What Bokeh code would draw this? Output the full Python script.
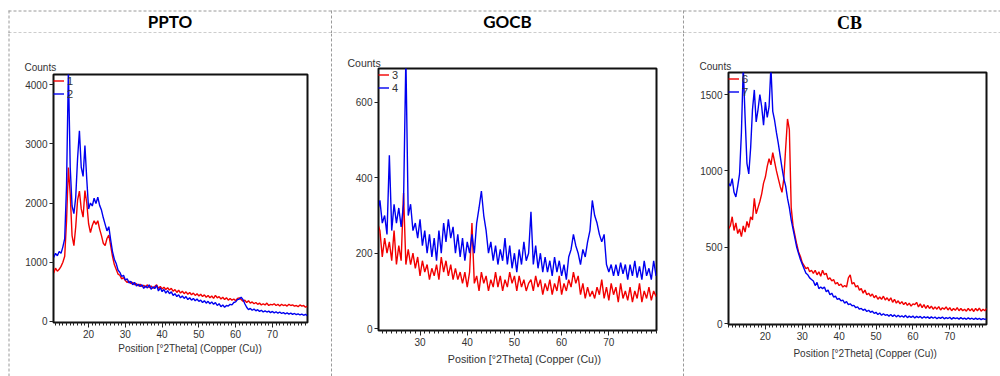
from bokeh.plotting import figure
from bokeh.layouts import row, column
from bokeh.models import Range1d, Label, Legend, LegendItem, FixedTicker
from bokeh.core.properties import value
from bokeh.embed import file_html
from bokeh.resources import INLINE

# ---------------- data ----------------
PPTO_2THETA = [10.5, 11.0, 11.5, 12.0, 12.5, 13.0, 13.5, 14.0, 14.5, 15.0,
               15.5, 16.0, 16.5, 17.0, 17.5, 18.0, 18.5, 19.0, 19.5, 20.0,
               20.5, 21.0, 21.5, 22.0, 22.5, 23.0, 23.5, 24.0, 24.5, 25.0,
               25.5, 26.0, 26.5, 27.0, 27.5, 28.0, 28.5, 29.0, 29.5, 30.0,
               30.5, 31.0, 31.5, 32.0, 32.5, 33.0, 33.5, 34.0, 34.5, 35.0,
               35.5, 36.0, 36.5, 37.0, 37.5, 38.0, 38.5, 39.0, 39.5, 40.0,
               40.5, 41.0, 41.5, 42.0, 42.5, 43.0, 43.5, 44.0, 44.5, 45.0,
               45.5, 46.0, 46.5, 47.0, 47.5, 48.0, 48.5, 49.0, 49.5, 50.0,
               50.5, 51.0, 51.5, 52.0, 52.5, 53.0, 53.5, 54.0, 54.5, 55.0,
               55.5, 56.0, 56.5, 57.0, 57.5, 58.0, 58.5, 59.0, 59.5, 60.0,
               60.5, 61.0, 61.5, 62.0, 62.5, 63.0, 63.5, 64.0, 64.5, 65.0,
               65.5, 66.0, 66.5, 67.0, 67.5, 68.0, 68.5, 69.0, 69.5, 70.0,
               70.5, 71.0, 71.5, 72.0, 72.5, 73.0, 73.5, 74.0, 74.5, 75.0,
               75.5, 76.0, 76.5, 77.0, 77.5, 78.0, 78.5, 79.0, 79.5]
PPTO_SCAN1 = [820, 900, 850, 880, 930, 1000, 1100, 1700, 2600, 2150,
              1450, 1280, 1600, 2050, 2200, 1900, 1760, 2210, 2000, 1650,
              1500, 1620, 1700, 1640, 1700, 1560, 1450, 1320, 1280, 1400,
              1460, 1280, 1100, 960, 880, 800, 780, 720, 740, 690,
              660, 680, 640, 660, 620, 640, 600, 630, 590, 610,
              580, 620, 570, 600, 560, 590, 620, 560, 590, 550,
              580, 540, 570, 530, 560, 510, 540, 490, 530, 480,
              510, 470, 500, 460, 490, 450, 480, 440, 470, 430,
              460, 420, 450, 410, 440, 400, 430, 390, 440, 400,
              420, 380, 410, 370, 400, 360, 390, 360, 380, 350,
              390, 400, 370, 340, 360, 320, 350, 310, 330, 300,
              320, 290, 310, 280, 300, 280, 310, 270, 290, 280,
              300, 270, 290, 260, 290, 270, 280, 260, 290, 270,
              280, 260, 270, 250, 280, 260, 270, 240, 260]
PPTO_SCAN2 = [1080, 1150, 1110, 1180, 1150, 1260, 1400, 2300, 4250, 2600,
              1950, 1820, 2100, 2750, 3220, 2600, 2450, 2970, 2400, 1900,
              2000, 1950, 2080, 1990, 2100, 1960, 1880, 1750, 1640, 1530,
              1600, 1380, 1180, 1050, 980, 870, 830, 760, 780, 700,
              720, 650, 680, 620, 660, 600, 630, 590, 620, 560,
              600, 565, 620, 545, 585, 555, 610, 515, 570, 505,
              540, 480, 520, 470, 500, 440, 470, 420, 450, 400,
              430, 390, 420, 370, 400, 360, 390, 350, 380, 340,
              360, 320, 350, 310, 340, 300, 330, 290, 320, 270,
              300, 250, 280, 240, 270, 260, 290, 280, 320, 330,
              370, 380, 410, 370, 300, 240, 200, 220, 190, 210,
              180, 200, 170, 190, 160, 180, 160, 175, 150, 170,
              145, 165, 140, 160, 135, 150, 130, 145, 125, 140,
              120, 135, 115, 130, 110, 125, 105, 120, 100]

GOCB_2THETA = [21.0,
               21.5, 22.0, 22.5, 23.0, 23.5, 24.0, 24.5, 25.0, 25.5, 26.0,
               26.5, 27.0, 27.5, 28.0, 28.5, 29.0, 29.5, 30.0, 30.5, 31.0,
               31.5, 32.0, 32.5, 33.0, 33.5, 34.0, 34.5, 35.0, 35.5, 36.0,
               36.5, 37.0, 37.5, 38.0, 38.5, 39.0, 39.5, 40.0, 40.5, 41.0,
               41.5, 42.0, 42.5, 43.0, 43.5, 44.0, 44.5, 45.0, 45.5, 46.0,
               46.5, 47.0, 47.5, 48.0, 48.5, 49.0, 49.5, 50.0, 50.5, 51.0,
               51.5, 52.0, 52.5, 53.0, 53.5, 54.0, 54.5, 55.0, 55.5, 56.0,
               56.5, 57.0, 57.5, 58.0, 58.5, 59.0, 59.5, 60.0, 60.5, 61.0,
               61.5, 62.0, 62.5, 63.0, 63.5, 64.0, 64.5, 65.0, 65.5, 66.0,
               66.5, 67.0, 67.5, 68.0, 68.5, 69.0, 69.5, 70.0, 70.5, 71.0,
               71.5, 72.0, 72.5, 73.0, 73.5, 74.0, 74.5, 75.0, 75.5, 76.0,
               76.5, 77.0, 77.5, 78.0, 78.5, 79.0, 79.5, 80.0]
GOCB_SCAN3 = [280,
              260, 190, 240, 200, 230, 180, 260, 170, 220, 180,
              360, 170, 210, 170, 200, 160, 190, 140, 180, 150,
              170, 130, 160, 140, 170, 130, 190, 150, 180, 140,
              170, 130, 160, 130, 150, 120, 150, 110, 150, 280,
              120, 140, 100, 150, 120, 140, 100, 130, 110, 150,
              110, 140, 100, 130, 110, 150, 120, 140, 100, 140,
              110, 130, 100, 120, 130, 100, 140, 110, 130, 90,
              120, 100, 130, 90, 120, 100, 140, 90, 120, 100,
              130, 110, 150, 120, 140, 90, 120, 80, 110, 85,
              100, 80, 110, 90, 130, 80, 110, 75, 120, 90,
              110, 70, 120, 80, 100, 75, 110, 70, 100, 80,
              120, 70, 100, 80, 110, 75, 100, 85]
GOCB_SCAN4 = [310,
              340, 280, 300, 250, 460, 260, 330, 280, 320, 270,
              330, 720, 300, 330, 260, 280, 240, 290, 220, 260,
              200, 250, 190, 240, 180, 260, 200, 280, 230, 290,
              240, 270, 200, 250, 190, 240, 180, 230, 200, 250,
              200, 280, 320, 365, 300, 260, 200, 230, 180, 220,
              170, 210, 180, 240, 170, 220, 160, 200, 150, 210,
              170, 230, 180, 200, 310, 170, 220, 160, 200, 150,
              190, 150, 180, 140, 190, 150, 180, 140, 170, 130,
              190, 210, 250, 220, 200, 170, 210, 190, 230, 260,
              340, 300, 280, 250, 230, 250, 170, 150, 170, 140,
              170, 140, 175, 145, 170, 130, 170, 140, 180, 135,
              165, 130, 180, 140, 160, 130, 180, 140]

CB_2THETA = [10.0,
             10.5, 11.0, 11.5, 12.0, 12.5, 13.0, 13.5, 14.0, 14.5, 15.0,
             15.5, 16.0, 16.5, 17.0, 17.5, 18.0, 18.5, 19.0, 19.5, 20.0,
             20.5, 21.0, 21.5, 22.0, 22.5, 23.0, 23.5, 24.0, 24.5, 25.0,
             25.5, 26.0, 26.5, 27.0, 27.5, 28.0, 28.5, 29.0, 29.5, 30.0,
             30.5, 31.0, 31.5, 32.0, 32.5, 33.0, 33.5, 34.0, 34.5, 35.0,
             35.5, 36.0, 36.5, 37.0, 37.5, 38.0, 38.5, 39.0, 39.5, 40.0,
             40.5, 41.0, 41.5, 42.0, 42.5, 43.0, 43.5, 44.0, 44.5, 45.0,
             45.5, 46.0, 46.5, 47.0, 47.5, 48.0, 48.5, 49.0, 49.5, 50.0,
             50.5, 51.0, 51.5, 52.0, 52.5, 53.0, 53.5, 54.0, 54.5, 55.0,
             55.5, 56.0, 56.5, 57.0, 57.5, 58.0, 58.5, 59.0, 59.5, 60.0,
             60.5, 61.0, 61.5, 62.0, 62.5, 63.0, 63.5, 64.0, 64.5, 65.0,
             65.5, 66.0, 66.5, 67.0, 67.5, 68.0, 68.5, 69.0, 69.5, 70.0,
             70.5, 71.0, 71.5, 72.0, 72.5, 73.0, 73.5, 74.0, 74.5, 75.0,
             75.5, 76.0, 76.5, 77.0, 77.5, 78.0, 78.5, 79.0, 79.5, 80.0]
CB_SCAN6 = [620,
            640, 700, 610, 660, 590, 620, 570, 640, 600, 670,
            630, 700, 680, 820, 720, 760, 800, 850, 920, 960,
            1030, 1080, 1040, 1120, 1060, 1000, 950, 900, 860, 950,
            1150, 1340, 1270, 760, 640, 580, 520, 470, 440, 400,
            380, 360, 370, 340, 350, 330, 350, 320, 340, 310,
            350, 320, 330, 290, 300, 280, 290, 260, 270, 250,
            260, 240, 250, 240, 300, 320, 260, 270, 240, 250,
            220, 230, 200, 220, 190, 200, 180, 195, 170, 185,
            160, 175, 160, 180, 155, 170, 150, 170, 140, 160,
            135, 150, 130, 145, 125, 140, 120, 135, 115, 130,
            125, 140, 110, 130, 105, 125, 100, 120, 100, 115,
            95, 110, 95, 112, 90, 105, 95, 110, 90, 105,
            85, 100, 88, 105, 85, 100, 85, 95, 82, 100,
            84, 98, 80, 100, 85, 102, 82, 95, 85, 100]
CB_SCAN7 = [920,
            900, 950, 860, 830, 900, 980, 1250, 1680, 1350, 1050,
            980, 1150, 1400, 1530, 1320, 1400, 1500, 1420, 1300, 1450,
            1350, 1420, 1680, 1390, 1330, 1250, 1180, 1100, 1020, 950,
            900, 820, 760, 680, 620, 560, 500, 460, 420, 390,
            360, 330, 320, 300, 290, 280, 250, 270, 230, 240,
            230, 240, 210, 220, 190, 200, 175, 180, 160, 165,
            150, 155, 135, 145, 125, 130, 118, 120, 105, 110,
            95, 100, 88, 95, 80, 88, 75, 82, 68, 75,
            60, 70, 55, 65, 55, 60, 50, 60, 48, 58,
            45, 55, 45, 52, 42, 55, 40, 50, 42, 50,
            38, 48, 40, 48, 36, 46, 38, 45, 35, 45,
            36, 44, 33, 42, 35, 44, 32, 40, 34, 42,
            30, 40, 33, 38, 30, 40, 31, 37, 29, 38,
            30, 36, 28, 37, 29, 35, 27, 34, 28, 32]

PANEL_TITLES = ["PPTO", "GOCB", "CB"]
LEGEND_NAMES = [["1", "2"], ["3", "4"], ["6", "7"]]
X_TICKS = [[20, 30, 40, 50, 60, 70], [30, 40, 50, 60, 70], [20, 30, 40, 50, 60, 70]]
Y_TICKS = [[0, 1000, 2000, 3000, 4000], [0, 200, 400, 600], [0, 500, 1000, 1500]]
Y_LABEL = "Counts"
X_LABEL = "Position [\u00b02Theta] (Copper (Cu))"

for a, b in [(PPTO_2THETA, PPTO_SCAN1), (PPTO_2THETA, PPTO_SCAN2), (GOCB_2THETA, GOCB_SCAN3),
             (GOCB_2THETA, GOCB_SCAN4), (CB_2THETA, CB_SCAN6), (CB_2THETA, CB_SCAN7)]:
    assert len(a) == len(b), (len(a), len(b))

RED = "#f20000"
BLUE = "#0000f0"
GRID_DASH = "#9a9a9a"
DASH = "3 2"
TEXT = "#333333"
SANS = "Liberation Sans"

HEADER_H = 33
BODY_H = 376 - HEADER_H


def bare(width, height):
    p = figure(width=width, height=height, output_backend="svg", toolbar_location=None,
               title=None, x_axis_location=None, y_axis_location=None,
               x_range=Range1d(0, width), y_range=Range1d(height, 0), min_border=0)
    p.grid.visible = False
    p.outline_line_color = None
    p.background_fill_color = "white"
    p.border_fill_color = "white"
    return p


# ---- header row of the table (dashed cell borders + column titles) ----
hdr = bare(1000, HEADER_H)
hdr.segment(x0=[8, 8], y0=[10.5, 32.5], x1=[1000, 1000], y1=[10.5, 32.5],
            line_color=GRID_DASH, line_width=1, line_dash=DASH)
hdr.segment(x0=[8.5, 331, 683], y0=[10, 10, 10], x1=[8.5, 331, 683], y1=[33, 33, 33],
            line_color=GRID_DASH, line_width=1, line_dash=DASH)
hdr.text(x=[169.5, 507], y=[21, 21], text=PANEL_TITLES[:2], text_align="center",
         text_baseline="middle", text_font=value("Lato"), text_font_size="17px",
         text_font_style="bold", text_color="black")
hdr.text(x=[849], y=[22], text=PANEL_TITLES[2:], text_align="center",
         text_baseline="middle", text_font=value("Liberation Serif"), text_font_size="18px",
         text_font_style="bold", text_color="black")


def vline(width, xpos):
    p = bare(width, BODY_H)
    p.segment(x0=[xpos], y0=[-60], x1=[xpos], y1=[BODY_H + 60],
              line_color=GRID_DASH, line_width=1, line_dash=DASH)
    return p


def panel(width, borders, xr, yr, xticks, yticks, x, y_red, y_blue, names,
          counts_xy, counts_size, xlabel_xy, xlabel_size):
    lb, rb, tb, bb = borders
    p = figure(width=width, height=BODY_H, output_backend="svg", toolbar_location=None,
               title=None, x_range=Range1d(*xr), y_range=Range1d(*yr),
               min_border_left=lb, min_border_right=rb, min_border_top=tb, min_border_bottom=bb)
    p.background_fill_color = "white"
    p.border_fill_color = "white"
    p.outline_line_color = "#111111"
    p.outline_line_width = 2
    p.grid.visible = False

    xa = p.xaxis[0]
    ya = p.yaxis[0]
    xa.ticker = FixedTicker(ticks=xticks, minor_ticks=list(range(10, 81)))
    ya.ticker = FixedTicker(ticks=yticks, minor_ticks=[])
    for ax in (xa, ya):
        ax.axis_line_color = "#111111"
        ax.major_tick_line_color = "#222222"
        ax.minor_tick_line_color = "#222222"
        ax.major_tick_in = 0
        ax.minor_tick_in = 0
        ax.major_label_text_font = SANS
        ax.major_label_text_font_size = "10px"
        ax.major_label_text_color = TEXT
    xa.major_tick_out = 5
    xa.minor_tick_out = 3
    xa.major_label_standoff = 2
    ya.major_tick_out = 4
    ya.minor_tick_out = 0
    ya.major_label_standoff = 2

    r1 = p.line(x, y_red, line_color=RED, line_width=1.4)
    r2 = p.line(x, y_blue, line_color=BLUE, line_width=1.4)

    leg = Legend(items=[LegendItem(label=names[0], renderers=[r1]),
                        LegendItem(label=names[1], renderers=[r2])],
                 location="top_left", margin=0, padding=0, spacing=0,
                 glyph_width=11, glyph_height=13, label_height=13, label_standoff=3,
                 label_text_font=SANS, label_text_font_size="11px", label_text_color=TEXT,
                 background_fill_alpha=0, border_line_alpha=0)
    p.add_layout(leg)

    p.add_layout(Label(x=counts_xy[0], y=counts_xy[1], x_units="canvas", y_units="canvas",
                       text=Y_LABEL, text_align="left", text_baseline="middle",
                       text_font=SANS, text_font_size=counts_size, text_color=TEXT), "above")
    p.add_layout(Label(x=xlabel_xy[0], y=xlabel_xy[1], x_units="canvas", y_units="canvas",
                       text=X_LABEL, text_align="center", text_baseline="middle",
                       text_font=SANS, text_font_size=xlabel_size, text_color=TEXT), "above")
    return p


# body row: x offsets  v0:0-10, p1:10-330, v1:330-332, p2:332-682, v2:682-684, p3:684-1000
p1 = panel(320, (43, 23, 41, 54), (10.45, 79.55), (-17, 4169), X_TICKS[0], Y_TICKS[0],
           PPTO_2THETA, PPTO_SCAN1, PPTO_SCAN2, LEGEND_NAMES[0],
           (14, 34), "10px", (179.5, 315), "10px")
p2 = panel(350, (46, 26, 35, 46), (21.2, 80.1), (-5, 690), X_TICKS[1], Y_TICKS[1],
           GOCB_2THETA, GOCB_SCAN3, GOCB_SCAN4, LEGEND_NAMES[1],
           (15, 29), "10.5px", (192, 325), "10.7px")
p3 = panel(316, (44, 14, 39, 52), (10.0, 79.95), (-5, 1644), X_TICKS[2], Y_TICKS[2],
           CB_2THETA, CB_SCAN6, CB_SCAN7, LEGEND_NAMES[2],
           (15, 33), "10px", (180.7, 320), "10px")

# each figure sits in its own column so the row does not line their frames up
body = row(column(vline(10, 8.5)), column(p1), column(vline(2, 1)), column(p2),
           column(vline(2, 1)), column(p3), spacing=0)
layout = column(hdr, body, spacing=0)
open("out.html", "w").write(file_html(layout, INLINE))
